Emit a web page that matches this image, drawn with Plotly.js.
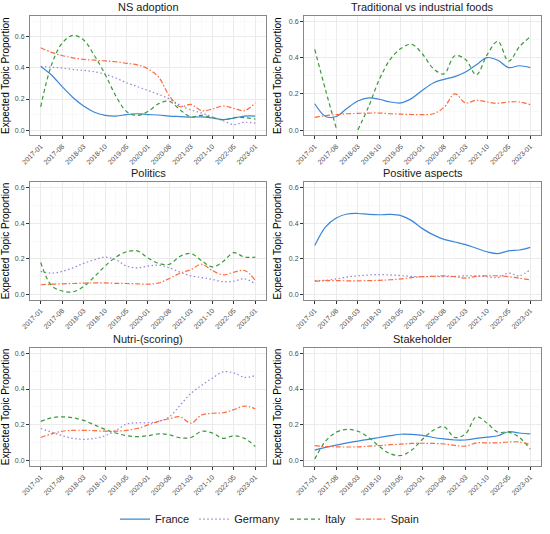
<!DOCTYPE html>
<html>
<head>
<meta charset="utf-8">
<script src="https://cdn.plot.ly/plotly-3.0.1.min.js"></script>
<style>html,body{margin:0;padding:0;background:#fff}#chart{width:550px;height:534px}</style>
</head>
<body>
<div id="chart"></div>
<script>
// ---- data ----
const dates = ["2017-01-01","2017-04-21","2017-08-08","2017-11-26","2018-03-15","2018-07-03","2018-10-20",
  "2019-02-07","2019-05-27","2019-09-14","2020-01-01","2020-04-20","2020-08-07","2020-11-25","2021-03-14",
  "2021-07-02","2021-10-19","2022-02-06","2022-05-26","2022-09-13","2023-01-01"];
const tickDates = ["2017-01-01","2017-08-08","2018-03-15","2018-10-20","2019-05-27","2020-01-01","2020-08-07",
  "2021-03-14","2021-10-19","2022-05-26","2023-01-01"];
const tickLabels = ["2017-01","2017-08","2018-03","2018-10","2019-05","2020-01","2020-08","2021-03","2021-10","2022-05","2023-01"];
const topics = ["NS adoption","Traditional vs industrial foods","Politics","Positive aspects","Nutri-(scoring)","Stakeholder"];
const countries = ["France","Germany","Italy","Spain"];
const yTicks = [0, 0.2, 0.4, 0.6];
const yLimits = [[0,0.7],[0,0.6],[0,0.6],[0,0.6],[0,0.6],[0,0.6]];

const nsFrance  = [0.41,0.355,0.28,0.21,0.155,0.115,0.095,0.09,0.10,0.105,0.10,0.097,0.09,0.087,0.083,0.085,0.078,0.067,0.077,0.09,0.09];
const nsGermany = [0.41,0.405,0.40,0.39,0.385,0.375,0.36,0.335,0.305,0.28,0.255,0.23,0.20,0.16,0.13,0.11,0.085,0.06,0.035,0.05,0.045];
const nsItaly   = [0.15,0.42,0.56,0.61,0.58,0.48,0.36,0.22,0.12,0.095,0.12,0.17,0.185,0.13,0.085,0.095,0.08,0.065,0.08,0.08,0.07];
const nsSpain   = [0.53,0.50,0.48,0.465,0.455,0.45,0.445,0.44,0.43,0.42,0.395,0.34,0.22,0.15,0.165,0.125,0.135,0.155,0.14,0.125,0.175];

const tradFrance = [0.145,0.075,0.075,0.12,0.16,0.178,0.17,0.155,0.15,0.175,0.22,0.26,0.28,0.295,0.32,0.36,0.40,0.385,0.345,0.355,0.345];
const tradItaly  = [0.445,0.22,0.01,null,0.0,0.13,0.28,0.39,0.45,0.473,0.42,0.34,0.31,0.41,0.39,0.305,0.415,0.49,0.38,0.46,0.515];
const tradSpain  = [0.07,0.08,0.085,0.09,0.092,0.094,0.094,0.09,0.088,0.086,0.085,0.09,0.125,0.2,0.15,0.165,0.155,0.148,0.155,0.155,0.14];

const polGermany = [0.13,0.12,0.13,0.15,0.175,0.195,0.21,0.195,0.16,0.15,0.16,0.165,0.15,0.125,0.105,0.095,0.085,0.072,0.075,0.088,0.06];
const polItaly   = [0.18,0.05,0.02,0.015,0.045,0.10,0.16,0.21,0.24,0.245,0.205,0.175,0.17,0.215,0.23,0.19,0.155,0.185,0.235,0.21,0.21];
const polSpain   = [0.055,0.058,0.06,0.062,0.064,0.065,0.065,0.063,0.062,0.06,0.058,0.065,0.09,0.12,0.14,0.17,0.135,0.11,0.125,0.135,0.08];

const posFrance  = [0.275,0.38,0.43,0.452,0.455,0.45,0.448,0.45,0.443,0.415,0.37,0.335,0.31,0.295,0.28,0.26,0.24,0.23,0.245,0.25,0.265];
const posGermany = [0.078,0.08,0.088,0.098,0.105,0.11,0.112,0.11,0.106,0.102,0.10,0.102,0.10,0.102,0.105,0.105,0.10,0.095,0.12,0.105,0.14];
const posSpain   = [0.075,0.078,0.078,0.077,0.077,0.078,0.08,0.083,0.088,0.095,0.10,0.102,0.105,0.10,0.092,0.102,0.105,0.105,0.10,0.092,0.082];

const nutGermany = [0.18,0.16,0.14,0.125,0.12,0.125,0.14,0.17,0.205,0.212,0.212,0.22,0.245,0.31,0.375,0.42,0.46,0.495,0.49,0.465,0.475];
const nutItaly   = [0.22,0.24,0.245,0.24,0.225,0.20,0.175,0.155,0.14,0.135,0.14,0.15,0.145,0.128,0.13,0.165,0.155,0.125,0.14,0.125,0.08];
const nutSpain   = [0.13,0.15,0.165,0.17,0.17,0.168,0.165,0.165,0.17,0.18,0.20,0.22,0.235,0.245,0.21,0.255,0.265,0.268,0.285,0.305,0.29];

const stkFrance  = [0.06,0.075,0.088,0.10,0.11,0.12,0.13,0.14,0.148,0.147,0.142,0.13,0.122,0.116,0.116,0.125,0.132,0.14,0.162,0.155,0.15];
const stkItaly   = [0.01,0.11,0.16,0.175,0.165,0.13,0.08,0.04,0.03,0.06,0.12,0.17,0.19,0.13,0.15,0.245,0.21,0.16,0.16,0.13,0.065];
const stkSpain   = [0.085,0.08,0.078,0.077,0.078,0.082,0.085,0.09,0.093,0.097,0.098,0.097,0.094,0.086,0.082,0.10,0.10,0.10,0.105,0.105,0.09];

// panel index -> {country: values}
const panelSeries = [
  {France: nsFrance, Germany: nsGermany, Italy: nsItaly, Spain: nsSpain},
  {France: tradFrance, Italy: tradItaly, Spain: tradSpain},
  {Germany: polGermany, Italy: polItaly, Spain: polSpain},
  {France: posFrance, Germany: posGermany, Spain: posSpain},
  {Germany: nutGermany, Italy: nutItaly, Spain: nutSpain},
  {France: stkFrance, Italy: stkItaly, Spain: stkSpain}
];

// ---- styles ----
const styles = {
  France:  {color: "#3a87d8", dash: "solid"},
  Germany: {color: "#9b7fd9", dash: "1.5px,2.5px"},
  Italy:   {color: "#3a9a3a", dash: "4px,3px"},
  Spain:   {color: "#ff6a3d", dash: "5px,2px,1.5px,2px"}
};
const W = 550, H = 534;
const colX = [[30, 266], [304, 541]];
const rowY = [[16, 136], [183, 301], [349, 468]];

const t0 = Date.parse("2017-01-01T00:00:00Z"), t1 = Date.parse("2023-01-01T00:00:00Z");
const span = t1 - t0;
const xr = [new Date(t0 - 0.05*span).toISOString(), new Date(t1 + 0.05*span).toISOString()];
const stepMs = span/10;

const traces = [];
const layout = {
  width: W, height: H,
  margin: {l:0, r:0, t:0, b:0},
  paper_bgcolor: "#fff", plot_bgcolor: "#fff",
  font: {family: "Liberation Sans, Arial, sans-serif", color: "#000"},
  showlegend: true,
  legend: {orientation: "h", x: 0.49, xanchor: "center", y: 1 - 521/H, yanchor: "middle",
           font: {size: 11, color: "#1a1a1a"}, itemwidth: 30, tracegroupgap: 0},
  annotations: []
};

const shownLegend = {};
topics.forEach((topic, i) => {
  const r = Math.floor(i/2), c = i % 2;
  const sfx = i === 0 ? "" : String(i+1);
  const xa = "x" + sfx, ya = "y" + sfx;
  const lim = yLimits[i];
  const ext = (lim[1]-lim[0])*0.05;
  layout["xaxis" + sfx] = {
    domain: [colX[c][0]/W, colX[c][1]/W], anchor: ya, type: "date", range: xr,
    tickmode: "array", tickvals: tickDates, ticktext: tickLabels, tickangle: -45,
    tickfont: {size: 7, color: "#4d4d4d"}, ticks: "outside", ticklen: 3, tickcolor: "#333",
    showgrid: true, gridcolor: "#ebebeb", gridwidth: 1,
    minor: {showgrid: true, gridcolor: "#f5f5f5", gridwidth: 0.6, tickmode: "linear",
            tick0: new Date(t0 + stepMs/2).toISOString(), dtick: stepMs, ticks: ""},
    showline: true, mirror: true, linecolor: "#888", linewidth: 1, zeroline: false
  };
  layout["yaxis" + sfx] = {
    domain: [1 - rowY[r][1]/H, 1 - rowY[r][0]/H], anchor: xa,
    range: [lim[0]-ext, lim[1]+ext], tickmode: "array", tickvals: yTicks,
    ticktext: yTicks.map(v => v.toFixed(1)),
    tickfont: {size: 7, color: "#4d4d4d"}, ticks: "outside", ticklen: 3, tickcolor: "#333",
    showgrid: true, gridcolor: "#ebebeb", gridwidth: 1,
    minor: {showgrid: true, gridcolor: "#f5f5f5", gridwidth: 0.6, tickmode: "linear", tick0: 0.1, dtick: 0.2, ticks: ""},
    showline: true, mirror: true, linecolor: "#888", linewidth: 1, zeroline: false,
    title: {text: "Expected Topic Proportion", font: {size: 10, color: "#000"}, standoff: 5}
  };
  layout.annotations.push({
    text: topic, xref: "paper", yref: "paper",
    x: (colX[c][0] + colX[c][1]) / 2 / W, y: 1 - (rowY[r][0] - 9)/H,
    xanchor: "center", yanchor: "middle", showarrow: false,
    font: {size: 11, color: "#1a1a1a"}
  });
  countries.forEach(cn => {
    const vals = panelSeries[i][cn];
    if (!vals) return;
    traces.push({
      type: "scatter", mode: "lines", x: dates, y: vals, xaxis: xa, yaxis: ya,
      name: cn, legendgroup: cn, showlegend: !shownLegend[cn],
      connectgaps: false, cliponaxis: true, legendrank: countries.indexOf(cn) + 1,
      line: {color: styles[cn].color, dash: styles[cn].dash, width: 1.2, shape: "spline", smoothing: 1}
    });
    shownLegend[cn] = true;
  });
});

Plotly.newPlot("chart", traces, layout, {staticPlot: true});
</script>
</body>
</html>
